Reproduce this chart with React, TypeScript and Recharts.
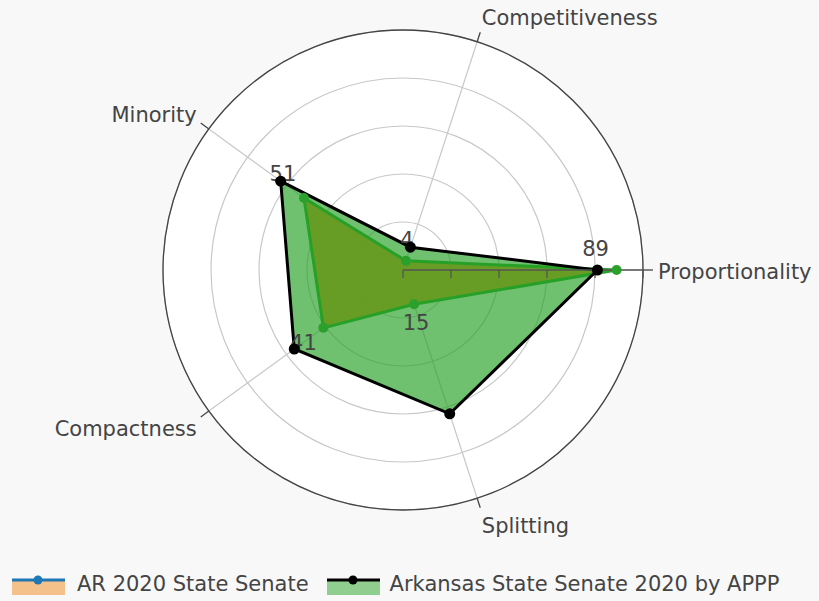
import React from "react";
import {
  RadarChart,
  Radar,
  PolarGrid,
  PolarAngleAxis,
  PolarRadiusAxis,
  Legend,
} from "recharts";

// listed clockwise from the right-hand spoke
const categories = ["Proportionality", "Splitting", "Compactness", "Minority", "Competitiveness"];
const arSenate = [89, 15, 41, 51, 4];
const apppSenate = [81, 63, 56, 63, 10];
const seriesNames = ["AR 2020 State Senate", "Arkansas State Senate 2020 by APPP"];

const data = categories.map((cat, i) => ({
  cat,
  ar: arSenate[i],
  appp: apppSenate[i],
}));

const FONT = "'DejaVu Sans', Verdana, sans-serif";
const TEXT = "#444";

// where the value text sits relative to its point
const labelOffsets = [
  [-21, -21],
  [2, 18],
  [-20, 15],
  [-21, -24],
  [1, -21],
];

const AngleTick = (props: any) => {
  const { x, y, payload, textAnchor } = props;
  const a = (payload.coordinate * Math.PI) / 180;
  return (
    <text
      x={x + Math.cos(a) * 5}
      y={y - Math.sin(a) * 17 + 1.5}
      dy="0.35em"
      textAnchor={textAnchor}
      fill={TEXT}
      fontSize={21}
      fontFamily={FONT}
    >
      {payload.value}
    </text>
  );
};

const RadiusTick = (props: any) => {
  const { x, y } = props;
  return <line x1={x} y1={y} x2={x} y2={y + 8} stroke="#555" strokeWidth={1.3} />;
};

const arDot = (props: any) => {
  const { cx, cy, index } = props;
  const [dx, dy] = labelOffsets[index];
  return (
    <g key={"ar" + index}>
      <circle cx={cx} cy={cy} r={5} fill="#2ca02c" stroke="none" />
      <text
        x={cx + dx}
        y={cy + dy}
        dy="0.35em"
        textAnchor="middle"
        fill={TEXT}
        fontSize={21}
        fontFamily={FONT}
      >
        {arSenate[index]}
      </text>
    </g>
  );
};

const LegendContent = () => (
  <div style={{ display: "flex", alignItems: "center", fontFamily: FONT, fontSize: 21, color: TEXT }}>
    <svg width={53} height={22} style={{ marginLeft: 12 }}>
      <rect x={0} y={6} width={53} height={16} fill="#f5c18a" />
      <line x1={0} y1={7} x2={53} y2={7} stroke="#1f77b4" strokeWidth={3} />
      <circle cx={26} cy={7} r={4.5} fill="#1f77b4" />
    </svg>
    <span style={{ marginLeft: 12 }}>{seriesNames[0]}</span>
    <svg width={53} height={22} style={{ marginLeft: 18 }}>
      <rect x={0} y={6} width={53} height={16} fill="#8fce8f" />
      <line x1={0} y1={7} x2={53} y2={7} stroke="#000" strokeWidth={3} />
      <circle cx={26} cy={7} r={4.5} fill="#000" />
    </svg>
    <span style={{ marginLeft: 10 }}>{seriesNames[1]}</span>
  </div>
);

export default function App() {
  return (
    <div style={{ position: "absolute", left: 0, top: 0, width: 819, height: 601, background: "#f8f8f8" }}>
      <div
        style={{
          position: "absolute",
          left: 163,
          top: 30,
          width: 480,
          height: 480,
          borderRadius: "50%",
          background: "#fff",
        }}
      />
      <div style={{ position: "absolute", left: 0, top: 0 }}>
        <RadarChart
          width={819}
          height={601}
          data={data}
          cx={403}
          cy={270}
          outerRadius={240}
          startAngle={0}
          endAngle={-360}
          margin={{ top: 0, right: 0, bottom: 0, left: 0 }}
        >
          <PolarGrid gridType="circle" stroke="#c8c8c8" strokeWidth={1.2} />
          <PolarAngleAxis
            dataKey="cat"
            axisLineType="circle"
            stroke="#444"
            axisLine={{ stroke: "#444", strokeWidth: 1.3 }}
            tickLine={{ stroke: "#444", strokeWidth: 1.3 }}
            tickSize={10}
            tick={AngleTick}
          />
          <PolarRadiusAxis
            angle={0}
            domain={[0, 100]}
            tickCount={6}
            axisLine={{ stroke: "#555", strokeWidth: 1.5 }}
            tick={RadiusTick}
          />
          <Radar
            name={seriesNames[0]}
            dataKey="ar"
            stroke="#2ca02c"
            strokeWidth={3}
            fill="#e6901a"
            fillOpacity={0.95}
            dot={arDot}
            isAnimationActive={false}
          />
          <Radar
            name={seriesNames[1]}
            dataKey="appp"
            stroke="#000"
            strokeWidth={3}
            fill="#24a024"
            fillOpacity={0.66}
            dot={{ r: 5.5, fill: "#000", stroke: "none", fillOpacity: 1 }}
            isAnimationActive={false}
          />
          <Legend
            content={LegendContent}
            wrapperStyle={{ position: "absolute", left: 0, top: 572, width: 819 }}
          />
        </RadarChart>
      </div>
    </div>
  );
}
